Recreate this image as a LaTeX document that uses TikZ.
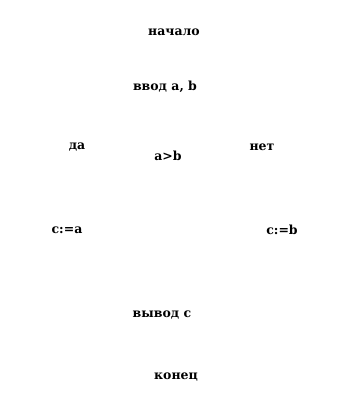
\documentclass[tikz,border=0pt]{standalone}
\usepackage{fontspec}
\setmainfont{DejaVu Serif}
\usetikzlibrary{positioning}

\begin{document}
\begin{tikzpicture}[x=1pt,y=1pt]
    \tikzset{lbl/.style={inner sep=0pt,font=\bfseries\fontsize{12.5}{14}\selectfont}}
    \useasboundingbox (0,0) rectangle (348,420);
    \node[lbl] (start) at (174,388) {начало};
    \node[lbl] (input) at (165,333) {ввод a, b};
    \node[lbl] (cond) at (168,264) {a>b};
    \node[lbl] (yes) at (77,273) {да};
    \node[lbl] (no) at (262,273) {нет};
    \node[lbl] (ca) at (67,190) {c:=a};
    \node[lbl] (cb) at (282,190) {c:=b};
    \node[lbl] (output) at (162,105) {вывод c};
    \node[lbl] (stop) at (176,43) {конец};
\end{tikzpicture}
\end{document}
